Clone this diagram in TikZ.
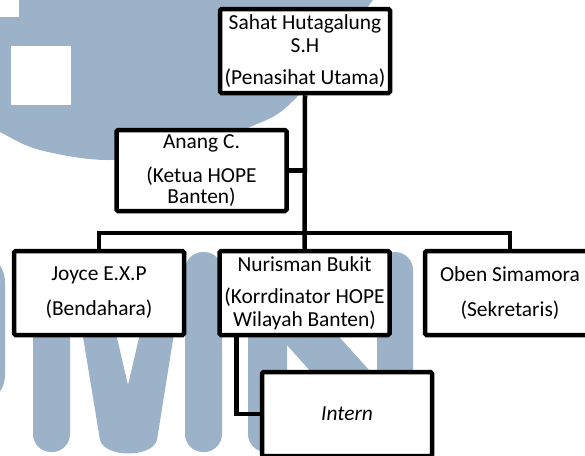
\documentclass[tikz,border=0pt]{standalone}
\usepackage{fontspec}
\setmainfont{Carlito}
\definecolor{umn}{RGB}{155,178,201}
\tikzset{
	box/.style={draw, fill=white, line width=4.5pt, rounded corners=1.5pt, minimum width=170pt, minimum height=84pt, align=center, inner sep=0pt, font=\fontsize{21.4}{23}\selectfont},
	link/.style={line width=4.5pt}
}
\begin{document}
\begin{tikzpicture}[x=1pt, y=-1pt]
			\useasboundingbox (0,0) rectangle (585,455);
			% watermark
			\begin{scope}
				\clip (0,0) rectangle (585,455);
				\fill[umn] plot[smooth, tension=.6] coordinates {(385,-15) (373,0) (297,97) (250,127) (180,148) (110,160) (40,150) (0,132) (-15,124)} -- (-15,-15) -- cycle;
				\fill[white] (-1,-1) rectangle (19,17);
				\fill[white] (11,46) rectangle (71,105);
				\fill[umn, rounded corners=30pt] (-60,252) rectangle (5,405);
				\fill[umn, rounded corners=18pt] (33,252) rectangle (70,452);
				\fill[umn, rounded corners=18pt] (185,252) rectangle (222,452);
				\fill[umn] (69,252) -- (97,252) -- (128,385) -- (159,252) -- (187,252) -- (157,440) .. controls (152,458) and (105,458) .. (100,440) -- cycle;
				\fill[umn, rounded corners=18pt] (248,252) rectangle (287,452);
				\fill[umn, rounded corners=18pt] (377,252) rectangle (413,452);
				\fill[umn] (250,252) -- (263,252) -- (413,419) -- (413,452) -- (383,452) -- (250,304) -- cycle;
			\end{scope}
			% boxes
			\node[box] (sahat) at (305,51) {Sahat Hutagalung\\S.H\\[9pt](Penasihat Utama)};
			\node[box, minimum height=81pt, font=\fontsize{21.4}{21}\selectfont] (anang) at (201.5,170.5) {Anang C.\\[13pt](Ketua HOPE\\Banten)};
			\node[box] (joyce) at (99,293) {Joyce E.X.P\\[12pt](Bendahara)};
			\node[box] (nuris) at (304.5,293) {Nurisman Bukit\\[9pt](Korrdinator HOPE\\Wilayah Banten)};
			\node[box] (oben) at (510,293) {Oben Simamora\\[12pt](Sekretaris)};
			\node[box, font=\fontsize{21.4}{23}\selectfont\itshape] (intern) at (347,414) {Intern};
			\coordinate (bus) at (305,233);
			% links
			\draw[link] (sahat.south) -- (nuris.north);
			\draw[link] (anang.east) -- (anang.east -| sahat.south);
			\draw[link] (joyce.north) |- (bus) -| (oben.north);
			\draw[link] ([xshift=19pt]nuris.south west) |- (intern.west);
		\end{tikzpicture}
\end{document}
